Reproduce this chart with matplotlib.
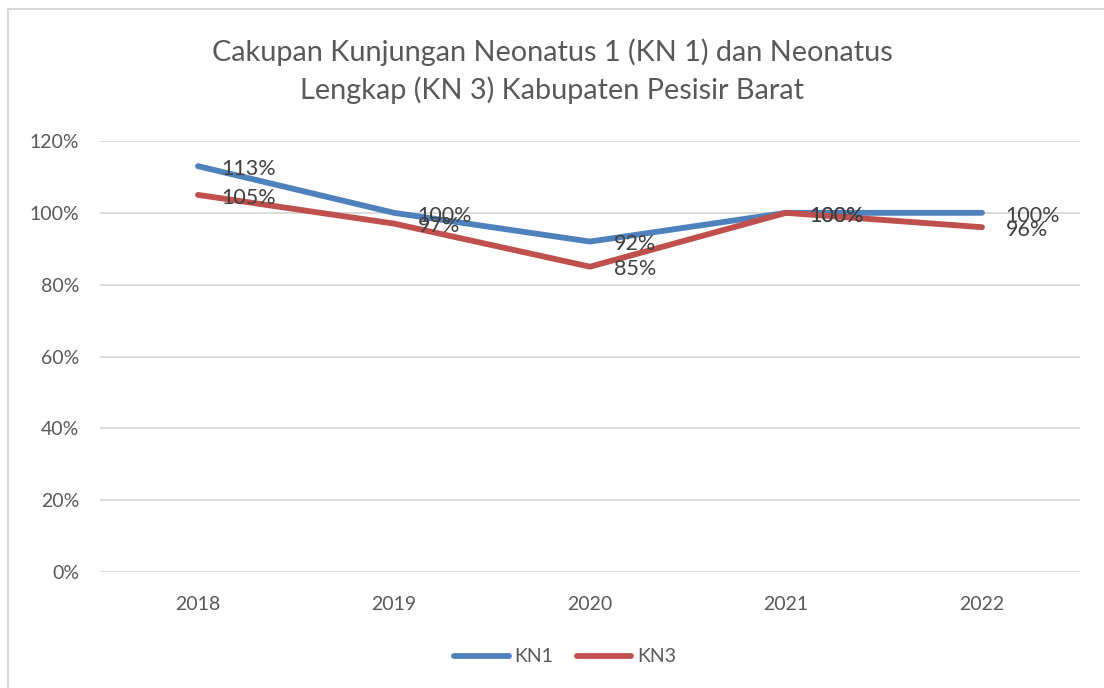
import matplotlib.pyplot as plt
from matplotlib.patches import Rectangle
from matplotlib.ticker import PercentFormatter

# data
years = ['2018', '2019', '2020', '2021', '2022']
kn1 = [1.13, 1.00, 0.92, 1.00, 1.00]
kn3 = [1.05, 0.97, 0.85, 1.00, 0.96]
kn1_labels = ['113%', '100%', '92%', '100%', '100%']
kn3_labels = ['105%', '97%', '85%', '100%', '96%']

plt.rcParams['font.family'] = ['Lato', 'DejaVu Sans']

fig = plt.figure(figsize=(11.04, 6.88), dpi=100)
ax = fig.add_axes([100/1104, 116/688, 980/1104, 431/688])

x = list(range(len(years)))
ax.plot(x, kn1, color='#4F81BD', lw=4.2, solid_capstyle='round', label='KN1', zorder=3)
ax.plot(x, kn3, color='#C0504D', lw=4.2, solid_capstyle='round', label='KN3', zorder=3)

# data labels to the right of each point (they overlap in the original too)
for i in x:
    ax.annotate(kn1_labels[i], (i, kn1[i]), xytext=(17, -2), textcoords='offset points',
                ha='left', va='center', fontsize=15.5, color='#404040', zorder=4)
    ax.annotate(kn3_labels[i], (i, kn3[i]), xytext=(17, -2), textcoords='offset points',
                ha='left', va='center', fontsize=15.5, color='#404040', zorder=4)

ax.set_xlim(-0.5, 4.5)
ax.set_ylim(0, 1.2)
ax.set_yticks([0, 0.2, 0.4, 0.6, 0.8, 1.0, 1.2])
ax.yaxis.set_major_formatter(PercentFormatter(1.0, decimals=0))
ax.set_xticks(x)
ax.set_xticklabels(years)
ax.grid(axis='y', color='#D9D9D9', lw=1.3)
ax.set_axisbelow(True)
for s in ['top', 'right', 'left', 'bottom']:
    ax.spines[s].set_visible(False)
ax.tick_params(axis='both', length=0, labelsize=14, labelcolor='#595959')
ax.tick_params(axis='y', pad=15)
ax.tick_params(axis='x', pad=17)

fig.text(0.5, 1 - 71/688, 'Cakupan Kunjungan Neonatus 1 (KN 1) dan Neonatus\nLengkap (KN 3) Kabupaten Pesisir Barat',
         ha='center', va='center', fontsize=20.8, color='#595959', linespacing=1.45)

fig.legend(loc='center', bbox_to_anchor=(565/1104, 1 - 657/688), ncol=2, frameon=False,
           fontsize=14, labelcolor='#595959', handlelength=2.8, handletextpad=0.3,
           columnspacing=1.2)

# outer chart border
fig.patches.append(Rectangle((8/1104, -0.1), 1.2, 1.1 - 9/688, transform=fig.transFigure,
                             fill=False, edgecolor='#D9D9D9', lw=1.5))

fig.savefig('out.png', dpi=100)
